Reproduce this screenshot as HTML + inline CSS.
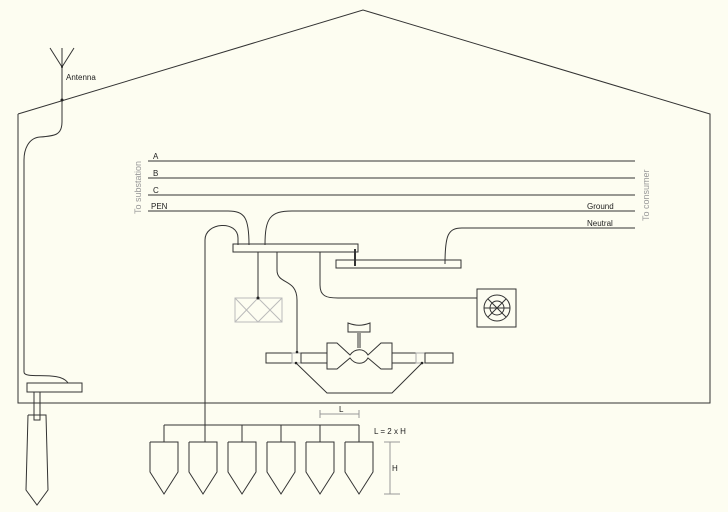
<!DOCTYPE html>
<html><head><meta charset="utf-8"><style>
html,body{margin:0;padding:0;background:#fdfdf1;}
svg{display:block}
text{font-family:"Liberation Sans",sans-serif;font-size:8px;fill:#222}
</style></head><body>
<svg width="728" height="512" viewBox="0 0 728 512" xmlns="http://www.w3.org/2000/svg">
<rect width="728" height="512" fill="#fdfdf1"/>
<g fill="none" stroke="#333" stroke-width="1">
<!-- house -->
<polyline points="18,114 363,10 710,114 710,403 18,403 18,114"/>
<!-- antenna -->
<line x1="62" y1="48" x2="62" y2="122"/>
<polyline points="50,48 62,67 74,48"/>
<path d="M62,122 C62,135 55,136 40,137 C28,138 24,150 24,160 L24,372 C24,380 60,370 68,383"/>
<rect x="27" y="383" width="55" height="9"/>
<rect x="34" y="392" width="6" height="28"/>
<polyline points="28,415 46,415 48,490 37,505 26,490 28,415"/>
<!-- lines -->
<line x1="148" y1="161" x2="635" y2="161"/>
<line x1="148" y1="178" x2="635" y2="178"/>
<line x1="148" y1="195" x2="635" y2="195"/>
<path d="M148,211 L228,211 C245,211 249,218 249,245"/>
<path d="M635,211 L292,211 C270,211 265,218 265,245"/>
<path d="M635,228 L462,228 C448,228 445,235 445,264"/>
<!-- buses -->
<rect x="233" y="244" width="125" height="8"/>
<rect x="336" y="260" width="125" height="8"/>
<line x1="355" y1="249" x2="355" y2="266" stroke-width="2"/>
<path d="M238,245 L238,238 C238,220 205,222 205,240 L205,425"/>
<line x1="258" y1="252" x2="258" y2="298"/>
<path d="M277,252 L277,270 C277,285 297,278 297,300 L297,352"/>
<path d="M320,252 L320,285 C320,296 326,298 338,298 L477,298"/>
<rect x="477" y="289" width="39" height="38"/>
<circle cx="497" cy="308" r="13"/>
<circle cx="497" cy="308" r="7"/>
<line x1="488" y1="299" x2="506" y2="317"/>
<line x1="506" y1="299" x2="488" y2="317"/>
<line x1="484" y1="308" x2="510" y2="308"/>
<!-- meter -->
<rect x="266" y="353" width="26" height="10"/>
<rect x="292" y="353" width="9" height="10" stroke="#aaa"/>
<rect x="301" y="353" width="26" height="10"/>
<rect x="392" y="353" width="24" height="10"/>
<rect x="416" y="353" width="9" height="10" stroke="#aaa"/>
<rect x="425" y="353" width="28" height="10"/>
<path d="M327,343 L337,343 L350,355 C355,348 364,348 368,355 L381,343 L392,343 L392,369 L381,369 L368,358 C364,365 355,365 350,358 L337,369 L327,369 Z"/>
<line x1="358" y1="348" x2="358" y2="333"/>
<line x1="360" y1="348" x2="360" y2="333"/>
<path d="M348,323 L348,332 L370,332 L370,323 C362,326 356,326 348,323 Z"/>
<polyline points="296,363 327,393 392,393 422,363"/>
<!-- comb -->
<line x1="164" y1="425" x2="359" y2="425"/>
<line x1="164" y1="425" x2="164" y2="442"/>
<line x1="205" y1="425" x2="205" y2="442"/>
<line x1="242" y1="425" x2="242" y2="442"/>
<line x1="281" y1="425" x2="281" y2="442"/>
<line x1="320" y1="425" x2="320" y2="442"/>
<line x1="359" y1="425" x2="359" y2="442"/>
<polyline points="150,442 178,442 178,472 164,494 150,472 150,442"/>
<polyline points="189,442 217,442 217,472 203,494 189,472 189,442"/>
<polyline points="228,442 256,442 256,472 242,494 228,472 228,442"/>
<polyline points="267,442 295,442 295,472 281,494 267,472 267,442"/>
<polyline points="306,442 334,442 334,472 320,494 306,472 306,442"/>
<polyline points="345,442 373,442 373,472 359,494 345,472 345,442"/>
</g>
<g fill="none" stroke="#999" stroke-width="1">
<rect x="235" y="298" width="47" height="24" stroke="#bbb"/>
<polyline points="235,298 258,322 282,298" stroke="#bbb"/>
<polyline points="235,322 258,298 282,322" stroke="#bbb"/>
<line x1="320" y1="414" x2="359" y2="414"/>
<line x1="320" y1="410" x2="320" y2="418"/>
<line x1="359" y1="410" x2="359" y2="418"/>
<line x1="390" y1="442" x2="390" y2="494"/>
<line x1="384" y1="442" x2="400" y2="442"/>
<line x1="384" y1="494" x2="400" y2="494"/>
</g>
<g fill="#222">
<circle cx="62" cy="100" r="1.5"/><circle cx="62" cy="67" r="1"/>
<circle cx="258" cy="298" r="1.5"/><circle cx="297" cy="352" r="1.3"/>
<circle cx="296" cy="363" r="1.3"/><circle cx="422" cy="363" r="1.3"/>
</g>
<text x="66" y="80">Antenna</text>
<text x="153" y="159">A</text>
<text x="153" y="176">B</text>
<text x="153" y="193">C</text>
<text x="151" y="209">PEN</text>
<text x="587" y="209">Ground</text>
<text x="587" y="226">Neutral</text>
<text x="339" y="412">L</text>
<text x="374" y="434">L = 2 x H</text>
<text x="392" y="471">H</text>
<text transform="translate(141,214) rotate(-90)" style="fill:#999;font-size:9px">To substation</text>
<text transform="translate(649,221) rotate(-90)" style="fill:#999;font-size:9px">To consumer</text>
</svg>
</body></html>
